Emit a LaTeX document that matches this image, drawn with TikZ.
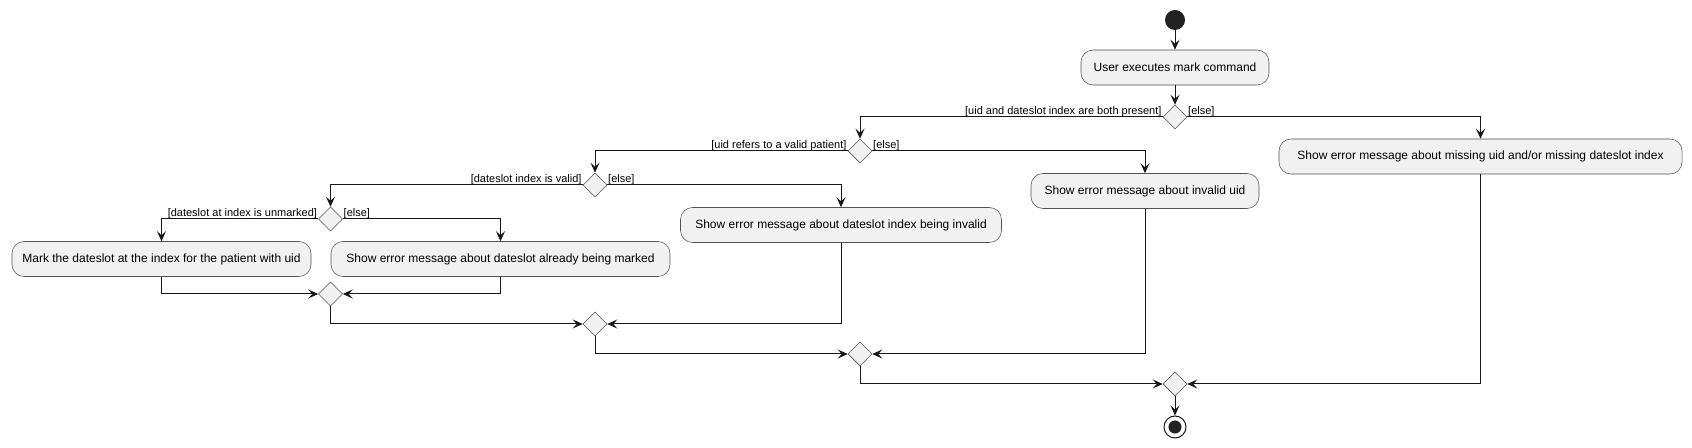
\documentclass[tikz,border=0pt]{standalone}
\usepackage{fontspec}
\setmainfont{Liberation Sans}
\usetikzlibrary{shapes.geometric,arrows.meta}
\definecolor{boxfill}{HTML}{F1F1F1}
\definecolor{boxline}{HTML}{181818}
\definecolor{dark}{HTML}{222222}
\begin{document}
\begin{tikzpicture}[x=0.75pt,y=-0.75pt,
  act/.style={rectangle, rounded corners=9pt, draw=boxline!75, line width=0.4pt, fill=boxfill, minimum height=26.25pt, inner sep=0pt, font=\fontsize{9}{11}\selectfont},
  dec/.style={diamond, draw=boxline!75, line width=0.4pt, fill=boxfill, minimum width=18pt, minimum height=18pt, inner sep=0pt},
  arr/.style={draw=boxline, line width=0.75pt, -{Stealth[length=7.5pt,width=6.75pt,inset=3pt]}},
  lbl/.style={font=\fontsize{8.25}{10}\selectfont, inner sep=0pt},
  lblL/.style={lbl, anchor=base east, xshift=-0.75pt, yshift=1.5pt},
  lblR/.style={lbl, anchor=base west, xshift=0.5pt, yshift=1.5pt}
]
\useasboundingbox (0,0) rectangle (1692,448);

% nodes
\node[circle, fill=dark, minimum size=15pt, inner sep=0pt] (start) at (1175,20) {};
\node[act, minimum width=141pt] (user) at (1175,67.5) {User executes mark command};
\node[dec] (d1) at (1175,117) {};
\node[act, minimum width=302.25pt] (missing) at (1480.5,156.5) {Show error message about missing uid and/or missing dateslot index};
\node[dec] (d2) at (860,151) {};
\node[act, minimum width=171pt] (invuid) at (1145,191) {Show error message about invalid uid};
\node[dec] (d3) at (595,185) {};
\node[act, minimum width=240.75pt] (invidx) at (841,225) {Show error message about dateslot index being invalid};
\node[dec] (d4) at (330.5,219) {};
\node[act, minimum width=224.25pt] (mark) at (161.5,259) {Mark the dateslot at the index for the patient with uid};
\node[act, minimum width=254.25pt] (already) at (500.5,259) {Show error message about dateslot already being marked};
\node[dec] (m4) at (330.5,294) {};
\node[dec] (m3) at (595,324) {};
\node[dec] (m2) at (860,354) {};
\node[dec] (m1) at (1175,384) {};
\node[circle, draw=boxline, fill=white, line width=0.75pt, minimum size=16.5pt, inner sep=0pt] (end) at (1175,427) {};
\fill[dark] (end.center) circle[radius=4.9pt];

% labels
\node[lblL] at (d1.west) {[uid and dateslot index are both present]};
\node[lblR] at (d1.east) {[else]};
\node[lblL] at (d2.west) {[uid refers to a valid patient]};
\node[lblR] at (d2.east) {[else]};
\node[lblL] at (d3.west) {[dateslot index is valid]};
\node[lblR] at (d3.east) {[else]};
\node[lblL] at (d4.west) {[dateslot at index is unmarked]};
\node[lblR] at (d4.east) {[else]};

% connectors
\draw[arr] (start) -- (user);
\draw[arr] (user) -- (d1);
\draw[arr] (d1.west) -| (d2.north);
\draw[arr] (d1.east) -| (missing.north);
\draw[arr] (d2.west) -| (d3.north);
\draw[arr] (d2.east) -| (invuid.north);
\draw[arr] (d3.west) -| (d4.north);
\draw[arr] (d3.east) -| (invidx.north);
\draw[arr] (d4.west) -| (mark.north);
\draw[arr] (d4.east) -| (already.north);
\draw[arr] (mark.south) |- (m4.west);
\draw[arr] (already.south) |- (m4.east);
\draw[arr] (m4.south) |- (m3.west);
\draw[arr] (invidx.south) |- (m3.east);
\draw[arr] (m3.south) |- (m2.west);
\draw[arr] (invuid.south) |- (m2.east);
\draw[arr] (m2.south) |- (m1.west);
\draw[arr] (missing.south) |- (m1.east);
\draw[arr] (m1) -- (end);
\end{tikzpicture}
\end{document}
